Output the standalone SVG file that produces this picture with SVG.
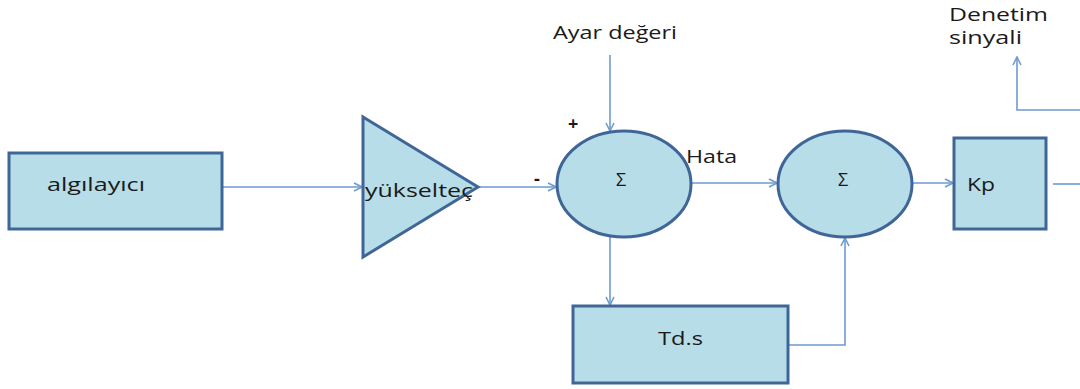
<svg xmlns="http://www.w3.org/2000/svg" width="1080" height="389" viewBox="0 0 1080 389">
  <style>
    .blk { fill: #b7dde8; stroke: #3f6696; stroke-width: 3; }
    .wire { fill: none; stroke: #6e9bd0; stroke-width: 1.6; }
    .lbl { font-family: "Open Sans", "Liberation Sans", sans-serif; fill: #1a1a1a; font-size: 18px; }
  </style>
  <defs>
    <marker id="arr" viewBox="0 0 10 10" refX="9" refY="5" markerWidth="10" markerHeight="10" markerUnits="userSpaceOnUse" orient="auto">
      <path d="M1,1 L9,5 L1,9" fill="none" stroke="#6e9bd0" stroke-width="1.6"/>
    </marker>
  </defs>

  <!-- connectors -->
  <g id="connectors">
    <line class="wire" x1="215" y1="187" x2="362" y2="187" marker-end="url(#arr)"/>
    <line class="wire" x1="478" y1="187" x2="556" y2="187" marker-end="url(#arr)"/>
    <line class="wire" x1="610" y1="55" x2="610" y2="131" marker-end="url(#arr)"/>
    <line class="wire" x1="692" y1="183" x2="777" y2="183" marker-end="url(#arr)"/>
    <line class="wire" x1="912" y1="183" x2="953" y2="183" marker-end="url(#arr)"/>
    <line class="wire" x1="1053" y1="184" x2="1080" y2="184"/>
    <line class="wire" x1="610" y1="237" x2="610" y2="305" marker-end="url(#arr)"/>
    <polyline class="wire" points="788,345 845,345 845,238" marker-end="url(#arr)"/>
    <polyline class="wire" points="1080,110 1017,110 1017,57" marker-end="url(#arr)"/>
  </g>

  <!-- sensor -->
  <g id="algilayici">
    <rect class="blk" x="9" y="153" width="213" height="76"/>
    <text class="lbl" x="47" y="191" textLength="98" lengthAdjust="spacingAndGlyphs">algılayıcı</text>
  </g>

  <!-- amplifier -->
  <g id="yukseltec">
    <polygon class="blk" points="363,117 478,187 363,257"/>
    <text class="lbl" x="365" y="197" textLength="108" lengthAdjust="spacingAndGlyphs">yükselteç</text>
  </g>

  <!-- first summing junction -->
  <g id="toplam1">
    <ellipse class="blk" cx="624" cy="184" rx="67" ry="53"/>
    <text class="lbl" x="621" y="186" font-size="16" text-anchor="middle">Σ</text>
  </g>

  <!-- second summing junction -->
  <g id="toplam2">
    <ellipse class="blk" cx="845" cy="184" rx="67" ry="53"/>
    <text class="lbl" x="843" y="186" font-size="16" text-anchor="middle">Σ</text>
  </g>

  <!-- proportional gain -->
  <g id="kp">
    <rect class="blk" x="954" y="138" width="92" height="91"/>
    <text class="lbl" x="967" y="191" textLength="28" lengthAdjust="spacingAndGlyphs">Kp</text>
  </g>

  <!-- derivative term -->
  <g id="tds">
    <rect class="blk" x="573" y="306" width="215" height="77"/>
    <text class="lbl" x="658" y="345" textLength="45" lengthAdjust="spacingAndGlyphs">Td.s</text>
  </g>

  <!-- free labels -->
  <g id="labels">
    <text class="lbl" x="568" y="130" font-size="18" font-weight="bold">+</text>
    <text class="lbl" x="534" y="185" font-size="18" font-weight="bold">-</text>
    <text class="lbl" x="553" y="39" textLength="124" lengthAdjust="spacingAndGlyphs">Ayar değeri</text>
    <text class="lbl" x="686" y="163" textLength="51" lengthAdjust="spacingAndGlyphs">Hata</text>
    <text class="lbl" x="949" y="21" font-size="19" textLength="99" lengthAdjust="spacingAndGlyphs">Denetim</text>
    <text class="lbl" x="949" y="44" font-size="19" textLength="73" lengthAdjust="spacingAndGlyphs">sinyali</text>
  </g>
</svg>
